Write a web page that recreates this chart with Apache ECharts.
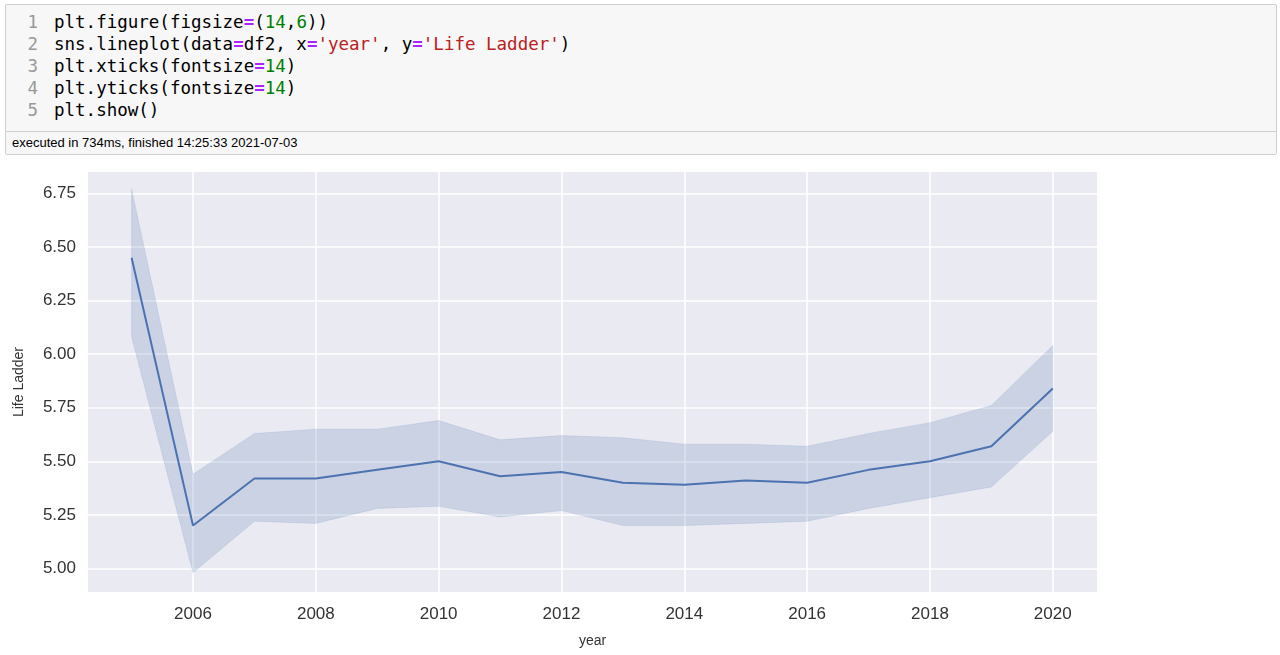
<!DOCTYPE html>
<html>
<head>
<meta charset="utf-8">
<script src="https://cdn.jsdelivr.net/npm/echarts@6/dist/echarts.min.js"></script>
<style>
  body { margin: 0; width: 1280px; height: 655px; background: #fff; position: relative; font-family: "DejaVu Sans Mono", monospace; }
  .cell { position: absolute; left: 5px; top: 4px; width: 1270px; height: 149px; border: 1px solid #cfcfcf; border-radius: 2px; background: #f7f7f7; overflow: hidden; }
  .code { height: 120px; padding-top: 6px; font-size: 17.5px; line-height: 22px; color: #000; }
  .ln { display: inline-block; width: 32px; text-align: right; color: #999; margin-right: 16px; }
  .code .k { color: #aa22ff; font-weight: bold; }
  .code .n { color: #008000; }
  .code .s { color: #ba2121; }
  .foot { border-top: 1px solid #cfcfcf; height: 22px; line-height: 22px; font-family: "Liberation Sans", sans-serif; font-size: 13px; padding-left: 6px; background: #f7f7f7; }
  #line { position: absolute; left: 0; top: 160px; width: 1280px; height: 495px; }
</style>
</head>
<body>
<div class="cell">
  <div class="code">
    <div><span class="ln">1</span>plt.figure(figsize<span class="k">=</span>(<span class="n">14</span>,<span class="n">6</span>))</div>
    <div><span class="ln">2</span>sns.lineplot(data<span class="k">=</span>df2, x<span class="k">=</span><span class="s">'year'</span>, y<span class="k">=</span><span class="s">'Life Ladder'</span>)</div>
    <div><span class="ln">3</span>plt.xticks(fontsize<span class="k">=</span><span class="n">14</span>)</div>
    <div><span class="ln">4</span>plt.yticks(fontsize<span class="k">=</span><span class="n">14</span>)</div>
    <div><span class="ln">5</span>plt.show()</div>
  </div>
  <div class="foot">executed in 734ms, finished 14:25:33 2021-07-03</div>
</div>
<div id="line"></div>
<script>
// 数据
var years = [2005, 2006, 2007, 2008, 2009, 2010, 2011, 2012, 2013, 2014, 2015, 2016, 2017, 2018, 2019, 2020];
var meanLadder = [6.45, 5.20, 5.42, 5.42, 5.46, 5.50, 5.43, 5.45, 5.40, 5.39, 5.41, 5.40, 5.46, 5.50, 5.57, 5.84];
var upperCI = [6.77, 5.44, 5.63, 5.65, 5.65, 5.69, 5.60, 5.62, 5.61, 5.58, 5.58, 5.57, 5.63, 5.68, 5.76, 6.04];
var lowerCI = [6.08, 4.98, 5.22, 5.21, 5.28, 5.29, 5.24, 5.27, 5.20, 5.20, 5.21, 5.22, 5.28, 5.33, 5.38, 5.64];
var xTicks = [2006, 2008, 2010, 2012, 2014, 2016, 2018, 2020];
var yTicks = [5.00, 5.25, 5.50, 5.75, 6.00, 6.25, 6.50, 6.75];

initEchart("line");

/**
 * 初始化图表
 * @param id 容器id
 */
function initEchart(id) {
    var container = echarts.init(document.getElementById(id));
    var pairs = function (arr) {
        return years.map(function (y, i) { return [y, arr[i]]; });
    };
    var bandData = years.map(function (y, i) { return [y, lowerCI[i], upperCI[i]]; });
    var labelStyle = { color: '#333', fontSize: 17, fontFamily: 'Liberation Sans' };
    var option = {
        animation: false,
        grid: { left: 88, right: 183, top: 12, bottom: 63, backgroundColor: '#eaeaf2', show: true, borderWidth: 0 },
        xAxis: {
            type: 'value', min: 2004.29, max: 2020.72,
            name: 'year', nameLocation: 'middle', nameGap: 42,
            nameTextStyle: { color: '#333', fontSize: 14, fontFamily: 'Liberation Sans' },
            axisLine: { show: false }, axisTick: { show: false, customValues: xTicks },
            axisLabel: Object.assign({ customValues: xTicks, margin: 14, formatter: function (v) { return String(v); } }, labelStyle),
            splitLine: { lineStyle: { color: '#fff', width: 1.5 } }
        },
        yAxis: {
            type: 'value', min: 4.89, max: 6.85,
            name: 'Life Ladder', nameLocation: 'middle', nameGap: 62, nameRotate: 90,
            nameTextStyle: { color: '#333', fontSize: 14, fontFamily: 'Liberation Sans' },
            axisLine: { show: false }, axisTick: { show: false, customValues: yTicks },
            axisLabel: Object.assign({ customValues: yTicks, margin: 12, formatter: function (v) { return v.toFixed(2); } }, labelStyle),
            splitLine: { lineStyle: { color: '#fff', width: 1.5 } }
        },
        series: [
            {
                type: 'custom', data: bandData, silent: true,
                renderItem: function (params, api) {
                    if (params.dataIndex !== 0) return null;
                    var top = [], bottom = [];
                    for (var i = 0; i < bandData.length; i++) {
                        top.push(api.coord([bandData[i][0], bandData[i][2]]));
                        bottom.unshift(api.coord([bandData[i][0], bandData[i][1]]));
                    }
                    return {
                        type: 'polygon',
                        shape: { points: top.concat(bottom) },
                        style: { fill: 'rgba(76,114,176,0.2)', stroke: 'rgba(76,114,176,0.12)' }
                    };
                },
                encode: { x: 0, y: [1, 2] }
            },
            { type: 'line', data: pairs(meanLadder), symbol: 'none', lineStyle: { color: '#4c72b0', width: 2 } }
        ]
    };
    container.setOption(option);
}
</script>
</body>
</html>
